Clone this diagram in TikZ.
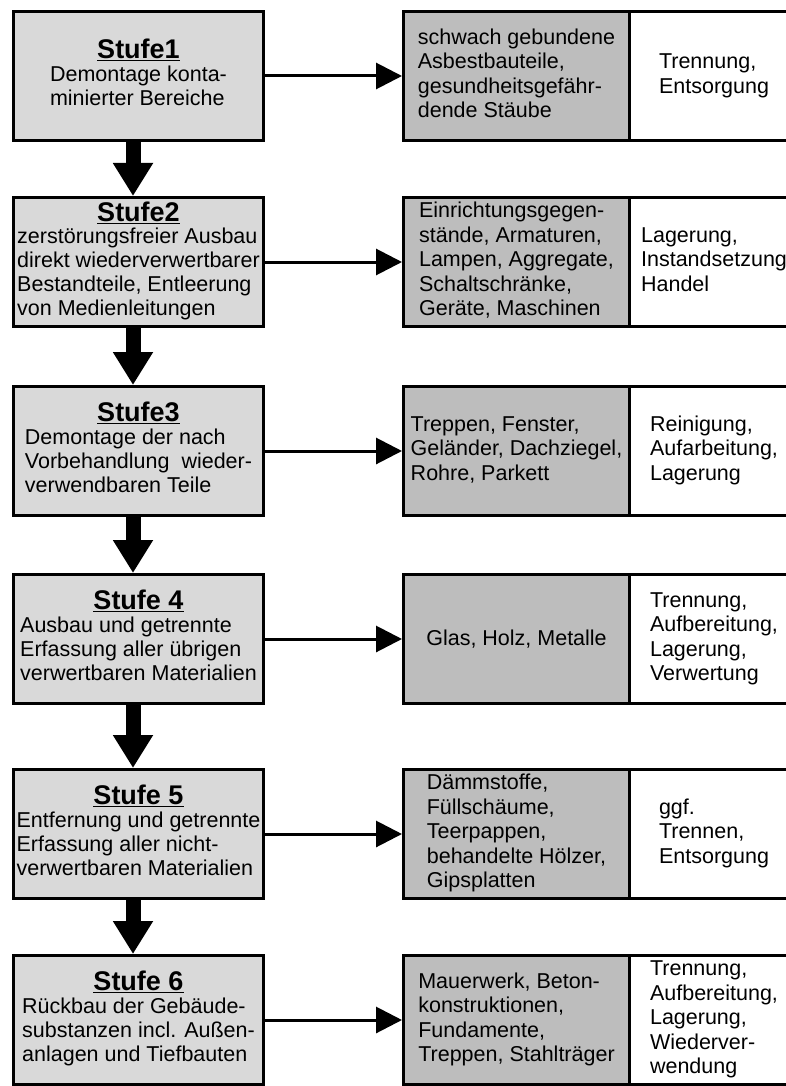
\documentclass[tikz,border=0pt]{standalone}
\usepackage{fontspec}
\setmainfont{Liberation Sans}
\newcommand{\stufetitle}[1]{{\fontsize{27}{30}\selectfont\bfseries\underline{#1}}}

\begin{document}
\begin{tikzpicture}[x=1pt,y=1pt]
  \usetikzlibrary{positioning,arrows.meta}
    \tikzstyle{flow} = [line width=3pt,-{Triangle[width=26pt,length=26pt]}]
    \tikzstyle{down} = [line width=15pt,-{Triangle[width=38pt,length=33pt]}]
       \tikzset{stufe/.style = {rectangle, draw, line width=3pt, fill=black!15, minimum width=250pt, minimum height=129pt, inner sep=1pt, align=center, font={\fontsize{21.5}{24}\selectfont}}, }
       \tikzset{stoff/.style = {rectangle, draw, line width=3pt, fill=black!26, minimum width=226pt, minimum height=129pt, inner sep=2pt, align=center, font={\fontsize{21.5}{24.5}\selectfont}}, }
       \tikzset{weg/.style = {rectangle, draw, line width=3pt, fill=white, minimum width=169pt, minimum height=129pt, inner sep=2pt, align=center, font={\fontsize{21.5}{24.5}\selectfont}}, }
       \useasboundingbox (0,0) rectangle (786,-1086);

       \node[stufe] at (138.5,-76) (S1) {\stufetitle{Stufe1}\\[3pt] \begin{tabular}{@{}l@{}}
       Demontage konta-\\
       minierter Bereiche
       \end{tabular}};
       \node[stufe, below=54pt of S1] (S2) {\stufetitle{Stufe2}\\[2pt] \begin{tabular}{@{}l@{}}
       zerstörungsfreier Ausbau\\
       direkt wiederverwertbarer\\
       Bestandteile, Entleerung\\
       von Medienleitungen
       \end{tabular}};
       \node[stufe, below=57pt of S2] (S3) {\stufetitle{Stufe3}\\[3pt] \begin{tabular}{@{}l@{}}
       Demontage der nach\\
       Vorbehandlung~ wieder-\\
       verwendbaren Teile
       \end{tabular}};
       \node[stufe, below=56pt of S3] (S4) {\stufetitle{Stufe 4}\\[3pt] \begin{tabular}{@{}l@{}}
       Ausbau und getrennte\\
       Erfassung aller übrigen\\
       verwertbaren Materialien
       \end{tabular}};
       \node[stufe, below=63pt of S4] (S5) {\stufetitle{Stufe 5}\\[3pt] \begin{tabular}{@{}l@{}}
       Entfernung und getrennte\\
       Erfassung aller nicht-\\
       verwertbaren Materialien
       \end{tabular}};
       \node[stufe, below=54pt of S5] (S6) {\stufetitle{Stufe 6}\\[3pt] \begin{tabular}{@{}l@{}}
       Rückbau der Gebäude-\\
       substanzen incl. Außen-\\
       anlagen und Tiefbauten
       \end{tabular}};

       \node[stoff, right=137pt of S1] (G1) {\begin{tabular}{@{}l@{}}
       schwach gebundene\\
       Asbestbauteile,\\
       gesundheitsgefähr-\\
       dende Stäube
       \end{tabular}};
       \node[stoff, right=137pt of S2] (G2) {\begin{tabular}{@{}l@{}}
       Einrichtungsgegen-\\
       stände, Armaturen,\\
       Lampen, Aggregate,\\
       Schaltschränke,\\
       Geräte, Maschinen
       \end{tabular}};
       \node[stoff, right=137pt of S3] (G3) {\begin{tabular}{@{}l@{}}
       Treppen, Fenster,\\
       Geländer, Dachziegel,\\
       Rohre, Parkett
       \end{tabular}};
       \node[stoff, right=137pt of S4] (G4) {Glas, Holz, Metalle};
       \node[stoff, right=137pt of S5] (G5) {\begin{tabular}{@{}l@{}}
       Dämmstoffe,\\
       Füllschäume,\\
       Teerpappen,\\
       behandelte Hölzer,\\
       Gipsplatten
       \end{tabular}};
       \node[stoff, right=137pt of S6] (G6) {\begin{tabular}{@{}l@{}}
       Mauerwerk, Beton-\\
       konstruktionen,\\
       Fundamente,\\
       Treppen, Stahlträger
       \end{tabular}};

       \node[weg, right=-3pt of G1] (W1) {\begin{tabular}{@{}l@{}}
       Trennung,\\
       Entsorgung
       \end{tabular}};
       \node[weg, right=-3pt of G2] (W2) {\begin{tabular}{@{}l@{}}
       Lagerung,\\
       Instandsetzung\\
       Handel
       \end{tabular}};
       \node[weg, right=-3pt of G3] (W3) {\begin{tabular}{@{}l@{}}
       Reinigung,\\
       Aufarbeitung,\\
       Lagerung
       \end{tabular}};
       \node[weg, right=-3pt of G4] (W4) {\begin{tabular}{@{}l@{}}
       Trennung,\\
       Aufbereitung,\\
       Lagerung,\\
       Verwertung
       \end{tabular}};
       \node[weg, right=-3pt of G5] (W5) {\begin{tabular}{@{}l@{}}
       ggf.\\
       Trennen,\\
       Entsorgung
       \end{tabular}};
       \node[weg, right=-3pt of G6] (W6) {\begin{tabular}{@{}l@{}}
       Trennung,\\
       Aufbereitung,\\
       Lagerung,\\
       Wiederver-\\
       wendung
       \end{tabular}};

       \draw[flow] (S1) -- (G1);
       \draw[flow] (S2) -- (G2);
       \draw[flow] (S3) -- (G3);
       \draw[flow] (S4) -- (G4);
       \draw[flow] (S5) -- (G5);
       \draw[flow] (S6) -- (G6);

       \draw[down] ([xshift=-5.5pt]S1.south) -- ([xshift=-5.5pt]S2.north);
       \draw[down] ([xshift=-5.5pt]S2.south) -- ([xshift=-5.5pt]S3.north);
       \draw[down] ([xshift=-5.5pt]S3.south) -- ([xshift=-5.5pt]S4.north);
       \draw[down] ([xshift=-5.5pt]S4.south) -- ([xshift=-5.5pt]S5.north);
       \draw[down] ([xshift=-5.5pt]S5.south) -- ([xshift=-5.5pt]S6.north);

\end{tikzpicture}
\end{document}
